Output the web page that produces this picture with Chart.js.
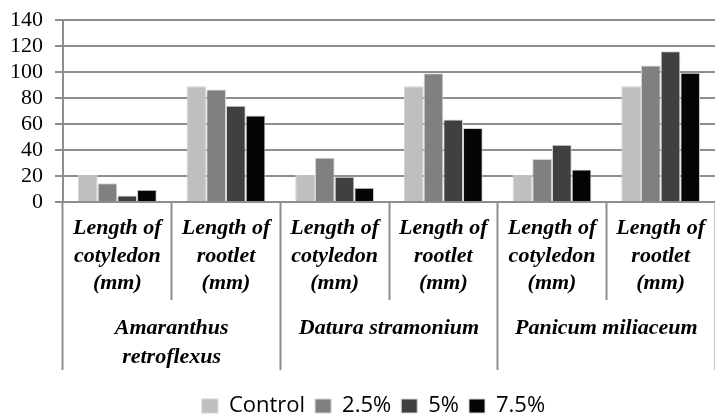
<!DOCTYPE html>
<html>
<head>
<meta charset="utf-8">
<script src="https://cdn.jsdelivr.net/npm/chart.js@4.4.0/dist/chart.umd.min.js"></script>
<style>
  html, body { margin: 0; padding: 0; background: #fff; }
  #wrap { width: 715px; height: 417px; position: relative; }
</style>
</head>
<body>
<div id="wrap"><canvas id="myChart"></canvas></div>
<script>
// measurement categories (lower level of x axis)
let measures = [
  ["Length of", "cotyledon", "(mm)"],
  ["Length of", "rootlet", "(mm)"],
  ["Length of", "cotyledon", "(mm)"],
  ["Length of", "rootlet", "(mm)"],
  ["Length of", "cotyledon", "(mm)"],
  ["Length of", "rootlet", "(mm)"]
];
// species (upper level of x axis)
let species = [["Amaranthus", "retroflexus"], "Datura stramonium", "Panicum miliaceum"];

let seriesNames = ["Control", "2.5%", "5%", "7.5%"];
let control = [21, 89, 21, 89, 21, 89];
let dose25 = [14.5, 86.5, 34, 99, 33, 105];
let dose5 = [5, 74, 19.5, 63.5, 44, 116];
let dose75 = [9.5, 66.5, 11, 57, 25, 99.5];
let yMin = 0, yMax = 140, yStep = 20;

let colors = ["#bfbfbf", "#808080", "#404040", "#050505"];
let gridColor = "#8d8d8d";

window.onload = function () {
  getGraph();
};

// nudge the legend a bit lower and to the right, like the original
let legendShift = {
  id: "legendShift",
  afterLayout: function (chart) {
    let lg = chart.legend;
    lg.left += 32;
    lg.top += 10;
    lg.bottom += 10;
  }
};

function getGraph() {
  Chart.defaults.font.family = "'Liberation Serif', 'Times New Roman', serif";
  Chart.defaults.color = "#000";

  let ctx = document.getElementById("myChart").getContext("2d");
  let values = [control, dose25, dose5, dose75];
  let datasets = seriesNames.map((name, i) => ({
    label: name,
    data: values[i],
    backgroundColor: colors[i],
    borderColor: "#d4d4d4",
    borderWidth: 1,
    categoryPercentage: 0.725,
    barPercentage: 1
  }));

  new Chart(ctx, {
    type: "bar",
    data: { labels: measures, datasets: datasets },
    plugins: [legendShift],
    options: {
      responsive: true,
      maintainAspectRatio: false,
      animation: false,
      layout: { padding: { top: 20, right: 0, left: 0, bottom: 0 } },
      plugins: {
        tooltip: { enabled: false },
        legend: {
          position: "bottom",
          labels: {
            color: "#000",
            boxWidth: 16,
            boxHeight: 14,
            padding: 10,
            font: { family: "'Open Sans'", size: 22 }
          }
        }
      },
      scales: {
        x: {
          weight: 0,
          grid: {
            offset: true,
            drawOnChartArea: false,
            tickLength: 98,
            tickColor: gridColor,
            tickWidth: 2
          },
          border: { color: gridColor, width: 2 },
          ticks: {
            autoSkip: false,
            maxRotation: 0,
            padding: -85,
            color: "#000",
            font: { size: 22, style: "italic", weight: "bold", lineHeight: 1.25 }
          },
          afterFit: function (scale) { scale.height = 98; }
        },
        x2: {
          type: "category",
          position: "bottom",
          weight: 1,
          labels: species,
          offset: true,
          grid: {
            offset: true,
            drawOnChartArea: false,
            tickLength: 70,
            tickColor: gridColor,
            tickWidth: 2
          },
          border: { display: false },
          ticks: {
            autoSkip: false,
            maxRotation: 0,
            padding: -56,
            color: "#000",
            font: { size: 22, style: "italic", weight: "bold", lineHeight: 1.32 }
          },
          afterFit: function (scale) { scale.height = 75; }
        },
        y: {
          min: yMin,
          max: yMax,
          grid: { color: gridColor, lineWidth: 2, tickLength: 8 },
          border: { color: gridColor, width: 2 },
          ticks: {
            stepSize: yStep,
            autoSkip: false,
            padding: 12,
            color: "#000",
            font: { size: 22 }
          },
          afterFit: function (scale) {
            scale.width = 63;
            scale.paddingTop = 0;
            scale.paddingBottom = 0;
          }
        }
      }
    }
  });
}
</script>
</body>
</html>
